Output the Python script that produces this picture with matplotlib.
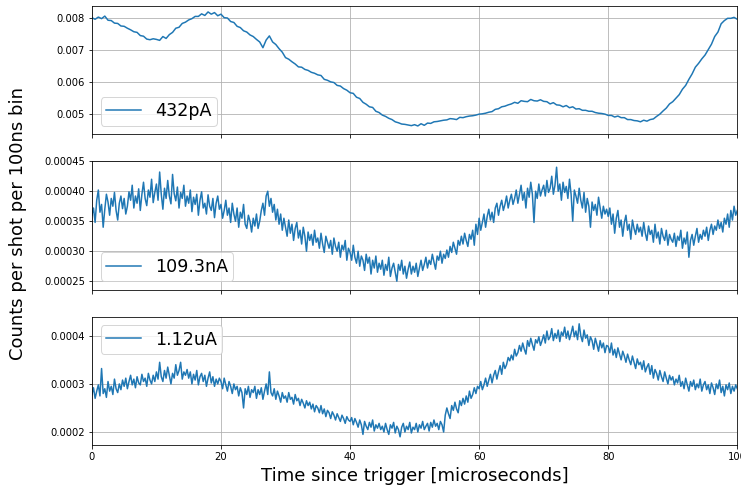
import numpy as np
import matplotlib
matplotlib.use("Agg")
import matplotlib.pyplot as plt

# counts per shot per 100ns bin, in units of 1e-6
# top trace sampled every 0.5 us
sig_432pA = [
    8000, 7950, 8020, 7970, 8050, 7920, 7910, 7830, 7820, 7740,
    7730, 7670, 7620, 7560, 7540, 7440, 7420, 7330, 7310, 7340,
    7320, 7290, 7410, 7350, 7470, 7540, 7670, 7700, 7820, 7860,
    7930, 7970, 8040, 8040, 8120, 8070, 8180, 8110, 8160, 8060,
    8110, 8000, 7990, 7880, 7850, 7730, 7690, 7590, 7550, 7460,
    7410, 7320, 7240, 7060, 7300, 7430, 7240, 7160, 7030, 6920,
    6750, 6700, 6620, 6550, 6460, 6450, 6380, 6350, 6290, 6260,
    6210, 6190, 6070, 6040, 5990, 5970, 5880, 5860, 5780, 5730,
    5650, 5630, 5510, 5470, 5350, 5290, 5210, 5190, 5070, 5030,
    4950, 4910, 4850, 4810, 4740, 4710, 4670, 4660, 4640, 4620,
    4650, 4610, 4680, 4630, 4700, 4690, 4740, 4750, 4770, 4790,
    4800, 4840, 4830, 4810, 4880, 4870, 4900, 4920, 4930, 4950,
    4980, 4990, 5010, 5040, 5060, 5130, 5150, 5210, 5230, 5270,
    5300, 5350, 5320, 5400, 5380, 5370, 5440, 5400, 5390, 5430,
    5380, 5370, 5300, 5340, 5270, 5260, 5210, 5250, 5180, 5210,
    5140, 5150, 5100, 5100, 5070, 5070, 5030, 5010, 5000, 4980,
    4940, 4940, 4890, 4920, 4870, 4870, 4810, 4810, 4780, 4770,
    4740, 4790, 4760, 4810, 4830, 4910, 4980, 5080, 5170, 5300,
    5370, 5480, 5590, 5760, 5880, 6070, 6240, 6450, 6570, 6710,
    6830, 7000, 7170, 7410, 7550, 7810, 7910, 7980, 7980, 8010,
    7950,
]

# middle and bottom traces sampled every 0.25 us
sig_109nA = [
    360, 372, 348, 385, 402, 365, 378, 340, 370, 395, 382, 360, 388, 375, 398, 368, 352, 380, 392, 371,
    388, 362, 375, 399, 385, 410, 372, 392, 380, 404, 368, 395, 415, 388, 376, 402, 390, 420, 381, 398,
    412, 385, 432, 395, 370, 405, 388, 418, 392, 379, 428, 396, 384, 407, 372, 398, 388, 410, 375, 392,
    380, 402, 366, 390, 378, 395, 360, 385, 399, 372, 380, 362, 394, 375, 368, 388, 356, 380, 392, 370,
    378, 355, 368, 385, 360, 372, 348, 380, 362, 350, 372, 340, 365, 355, 378, 345, 338, 360, 350, 332,
    355, 342, 362, 338, 350, 368, 380, 360, 392, 400, 375, 388, 365, 378, 352, 370, 345, 362, 335, 355,
    340, 325, 352, 330, 345, 318, 338, 348, 322, 335, 312, 340, 325, 300, 332, 318, 328, 310, 335, 315,
    322, 305, 330, 312, 298, 325, 315, 305, 318, 295, 322, 308, 300, 315, 290, 310, 302, 318, 285, 305,
    298, 285, 310, 290, 280, 300, 275, 292, 285, 268, 295, 280, 290, 262, 285, 272, 292, 265, 280, 270,
    285, 260, 278, 268, 290, 258, 272, 280, 265, 250, 278, 268, 285, 262, 275, 255, 270, 282, 262, 275,
    265, 280, 258, 272, 285, 268, 278, 290, 272, 285, 278, 295, 282, 270, 292, 285, 300, 280, 295, 288,
    302, 290, 308, 298, 315, 305, 295, 318, 310, 325, 312, 330, 318, 308, 328, 320, 335, 310, 345, 328,
    355, 335, 348, 362, 340, 358, 370, 352, 365, 348, 372, 380, 360, 375, 385, 368, 378, 392, 372, 385,
    395, 378, 388, 402, 380, 395, 410, 385, 398, 372, 405, 390, 415, 395, 348, 400, 388, 412, 392, 402,
    410, 392, 418, 398, 405, 425, 395, 410, 440, 400, 412, 385, 415, 398, 408, 388, 420, 395, 350, 402,
    392, 380, 405, 385, 372, 398, 365, 388, 375, 340, 382, 368, 378, 360, 390, 372, 355, 375, 362, 370,
    358, 372, 345, 362, 330, 355, 368, 340, 352, 325, 348, 360, 335, 345, 320, 352, 338, 328, 345, 332,
    340, 325, 348, 330, 318, 342, 328, 335, 315, 345, 322, 332, 312, 338, 325, 318, 335, 310, 328, 320,
    315, 330, 308, 325, 318, 335, 305, 322, 312, 332, 290, 318, 328, 310, 325, 338, 315, 328, 320, 335,
    325, 340, 318, 335, 345, 328, 342, 335, 352, 338, 348, 332, 355, 345, 362, 340, 368, 352, 375, 360,
    368,
]

sig_1uA = [
    278, 292, 270, 285, 298, 275, 332, 280, 290, 272, 305, 285, 295, 278, 310, 290, 282, 300, 288, 308,
    295, 312, 290, 305, 318, 298, 310, 292, 315, 302, 298, 320, 305, 312, 295, 322, 308, 300, 318, 305,
    325, 310, 345, 315, 305, 328, 312, 335, 318, 300, 322, 312, 340, 318, 328, 345, 310, 325, 318, 330,
    312, 325, 300, 320, 308, 328, 298, 315, 322, 305, 318, 295, 312, 325, 302, 315, 295, 310, 300, 312,
    305, 290, 312, 298, 285, 305, 295, 280, 300, 288, 295, 275, 292, 282, 250, 290, 278, 295, 272, 288,
    282, 295, 270, 288, 278, 292, 268, 285, 300, 278, 325, 282, 275, 290, 268, 285, 275, 262, 282, 270,
    275, 262, 282, 268, 272, 258, 278, 265, 270, 255, 268, 260, 250, 265, 255, 262, 248, 258, 242, 255,
    250, 240, 255, 238, 248, 232, 245, 240, 228, 242, 235, 225, 238, 230, 222, 235, 228, 218, 232, 225,
    222, 230, 215, 228, 220, 210, 225, 215, 195, 222, 212, 205, 220, 210, 225, 202, 215, 208, 218, 205,
    212, 200, 218, 205, 195, 215, 208, 220, 198, 212, 205, 190, 210, 218, 200, 212, 205, 220, 198, 210,
    205, 218, 200, 215, 208, 222, 205, 212, 218, 202, 220, 210, 225, 212, 218, 205, 222, 215, 200, 235,
    250, 238, 228, 255, 245, 262, 248, 240, 265, 255, 270, 258, 275, 262, 285, 270, 278, 292, 280, 295,
    290, 305, 288, 298, 312, 295, 308, 320, 302, 318, 328, 310, 325, 338, 320, 345, 332, 340, 355, 348,
    360, 350, 372, 358, 365, 380, 368, 385, 372, 362, 390, 378, 395, 382, 370, 392, 385, 398, 380, 390,
    402, 385, 410, 392, 398, 415, 390, 405, 395, 412, 388, 408, 400, 418, 395, 410, 392, 405, 420, 398,
    410, 392, 425, 400, 388, 412, 395, 402, 380, 398, 390, 372, 395, 382, 368, 390, 375, 385, 365, 380,
    378, 365, 385, 360, 372, 355, 375, 362, 350, 368, 358, 345, 362, 350, 340, 358, 345, 332, 352, 340,
    345, 330, 348, 325, 335, 342, 320, 338, 312, 330, 322, 308, 328, 315, 305, 325, 312, 300, 318, 308,
    315, 298, 310, 302, 318, 295, 305, 290, 312, 298, 285, 305, 295, 308, 288, 300, 292, 310, 285, 298,
    305, 288, 298, 280, 302, 292, 278, 300, 290, 308, 282, 295, 275, 298, 288, 302, 280, 295, 285, 298,
    290,
]

labels = ["432pA", "109.3nA", "1.12uA"]
series = [sig_432pA, sig_109nA, sig_1uA]
ylims = [(0.00435, 0.00837), (0.000236, 0.00045), (0.000173, 0.00044)]
yticks = [[0.005, 0.006, 0.007, 0.008],
          [0.00025, 0.00030, 0.00035, 0.00040, 0.00045],
          [0.0002, 0.0003, 0.0004]]
ytick_labels = [["0.005", "0.006", "0.007", "0.008"],
                ["0.00025", "0.00030", "0.00035", "0.00040", "0.00045"],
                ["0.0002", "0.0003", "0.0004"]]
legend_loc = ["lower left", "lower left", "upper left"]

fig, axes = plt.subplots(3, 1, sharex=True, figsize=(741 / 72, 489 / 72), dpi=72)
fig.subplots_adjust(left=0.124, right=0.995, top=0.988, bottom=0.09, hspace=0.21)

for ax, s, lab, yl, yt, ytl, loc in zip(axes, series, labels, ylims, yticks,
                                        ytick_labels, legend_loc):
    y = np.array(s) * 1e-6
    t = np.linspace(0, 100, len(y))
    ax.plot(t, y, color="C0", lw=1.5, label=lab)
    ax.set_xlim(0, 100)
    ax.set_ylim(*yl)
    ax.set_yticks(yt)
    ax.set_yticklabels(ytl)
    ax.grid(True)
    ax.legend(loc=loc, fontsize=17.5, borderpad=0.3)

axes[-1].set_xticks([0, 20, 40, 60, 80, 100])
axes[-1].set_xlabel("Time since trigger [microseconds]", fontsize=18, labelpad=5)
fig.text(0.024, 1 - 223 / 489, "Counts per shot per 100ns bin", rotation=90,
         fontsize=18, ha="center", va="center")

fig.savefig("out.png", dpi=72)
